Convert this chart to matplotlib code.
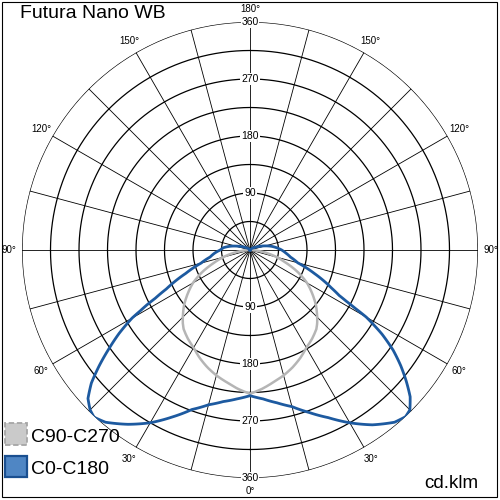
import numpy as np
import matplotlib

matplotlib.use("Agg")
import matplotlib.pyplot as plt
from matplotlib.patches import Rectangle

plt.rcParams["font.family"] = ["Liberation Sans", "DejaVu Sans"]

# luminous intensity distribution, cd/klm, gamma measured from nadir
gamma_blue = [0, 5, 10, 15, 20, 25, 30, 35, 40, 43, 45, 47.5, 50, 52.5, 55, 57.5,
              60, 61, 62, 63, 65, 70, 75, 80, 85, 90, 95, 100, 105, 110, 120, 135,
              150, 165, 180]
c0 = [230, 236, 245, 256, 273, 292, 315, 337, 355, 360, 357, 343, 322, 300, 276, 247,
      212, 190, 172, 158, 142, 108, 78, 65, 57, 50, 42, 34, 25, 17, 7, 2,
      1, 0, 0]
c180 = [230, 236, 243, 253, 268, 291, 315, 336, 355, 361, 357, 347, 327, 300, 272, 245,
        215, 198, 184, 168, 146, 108, 80, 64, 56, 47, 42, 33, 24, 16, 7, 2,
        1, 0, 0]

gamma_gray = [0, 5, 10, 15, 20, 25, 30, 35, 40, 42.5, 45, 47.5, 50, 52.5, 55, 57.5,
              60, 62.5, 65, 67.5, 70, 72.5, 75, 77.5, 80, 82.5, 85, 87.5, 90]
c90 = [227, 220, 212, 205, 197, 188, 178, 171, 163, 157, 150, 143, 136, 128, 120, 112,
       104, 94, 84, 73, 62, 53, 44, 35, 26, 18, 10, 4, 0]
c270 = c90

rings = [45, 90, 135, 180, 225, 270, 315, 360]
ring_labels = [90, 180, 270, 360]
angle_labels = [30, 60, 90, 120, 150]

BLUE = "#1d5aa0"
GRAY = "#b5b5b5"

fig = plt.figure(figsize=(5, 5), dpi=100)
ax = fig.add_axes([22 / 500, 22 / 500, 456 / 500, 456 / 500], projection="polar")
ax.set_theta_zero_location("S")
ax.set_theta_direction(1)
ax.set_ylim(0, 360)
ax.axis("off")

# grid
th = np.linspace(0, 2 * np.pi, 721)
for r in rings:
    ax.plot(th, np.full_like(th, r), color="black", lw=0.9, zorder=1)
for a in range(0, 360, 15):
    ax.plot([np.deg2rad(a)] * 2, [0, 360], color="black", lw=0.6, zorder=1)

# radial labels on the vertical axis
for v in ring_labels:
    for t in (0, np.pi):
        ax.text(t, v, str(v), ha="center", va="center", fontsize=7.5, zorder=2,
                bbox=dict(facecolor="white", edgecolor="none", pad=0.6))

# angle labels
lab_r = 381
ax.text(0, lab_r, "0°", ha="center", va="center", fontsize=7, clip_on=False)
ax.text(np.pi, lab_r, "180°", ha="center", va="center", fontsize=7, clip_on=False)
for a in angle_labels:
    for s in (1, -1):
        ax.text(s * np.deg2rad(a), lab_r, f"{a}°", ha="center", va="center",
                fontsize=7, clip_on=False)

# curves (segments drawn as arcs in polar space)
g = np.deg2rad(gamma_gray)
for ln in ax.plot(-g[::-1], c270[::-1], color=GRAY, lw=1.8, zorder=3):
    ln.get_path()._interpolation_steps = 8
for ln in ax.plot(g, c90, color=GRAY, lw=1.8, zorder=3):
    ln.get_path()._interpolation_steps = 8

gb = np.deg2rad(gamma_blue)
theta_b = np.concatenate([-gb[::-1], gb[1:]])
r_b = np.concatenate([c180[::-1], c0[1:]])
for ln in ax.plot(theta_b, r_b, color=BLUE, lw=2.0, zorder=4):
    ln.get_path()._interpolation_steps = 8

# title, unit, legend
fig.text(20.5 / 500, 1 - 17.5 / 500, "Futura Nano WB", fontsize=14, va="baseline")
fig.text(478 / 500, 12 / 500, "cd.klm", fontsize=13.5, ha="right", va="baseline")

fig.add_artist(Rectangle((4.5 / 500, 55.5 / 500), 22 / 500, 22 / 500,
                         transform=fig.transFigure, facecolor="#cacaca",
                         edgecolor="#a6a6a6", lw=1.3, ls=(0, (3, 1.5))))
fig.add_artist(Rectangle((5 / 500, 23 / 500), 22 / 500, 21.5 / 500,
                         transform=fig.transFigure, facecolor="#4f86c4",
                         edgecolor="#1a4f90", lw=1.6))
fig.text(31.5 / 500, 57.7 / 500, "C90-C270", fontsize=14, va="baseline")
fig.text(31.5 / 500, 25.5 / 500, "C0-C180", fontsize=14, va="baseline")

fig.add_artist(Rectangle((1.5 / 500, 3.5 / 500), 495 / 500, 495 / 500,
                         transform=fig.transFigure, fill=False,
                         edgecolor="black", lw=0.8))

fig.savefig("out.png", dpi=100)
